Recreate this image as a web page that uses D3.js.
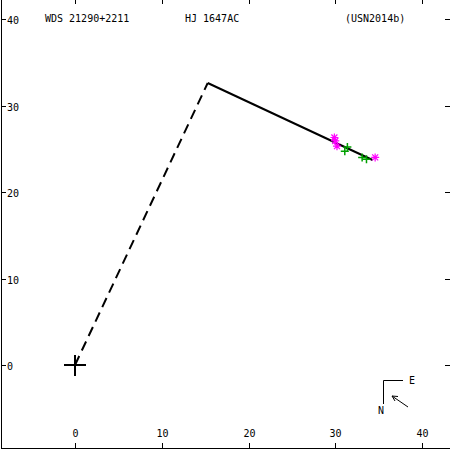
<!DOCTYPE html>
<html>
<head>
<meta charset="utf-8">
<script src="https://cdn.jsdelivr.net/npm/d3@7"></script>
<style>
  body { margin: 0; background: #fff; }
  text { font-family: "DejaVu Sans Mono", monospace; font-size: 10px; fill: #000; }
</style>
</head>
<body>
<div id="chart"></div>
<script>
var width = 450, height = 450;

var xTicks = [0, 10, 20, 30, 40];
var yTicks = [0, 10, 20, 30, 40];
var titles = ["WDS 21290+2211", "HJ 1647AC", "(USN2014b)"];

// orbit path: origin -> periastron-ish node -> last point
var dashedPath = [[0, 0], [15.3, 32.6]];
var orbitPath = [[15.3, 32.6], [34.3, 23.7]];

// measurements
var magentaPts = [[29.9, 26.3], [30.0, 25.9], [30.2, 25.3], [34.6, 24.0]];
var greenPts = [[31.4, 25.2], [31.1, 24.7], [33.1, 24.0], [33.6, 23.8]];

var x = d3.scaleLinear().domain([0, 40]).range([75, 422]);
var y = d3.scaleLinear().domain([0, 40]).range([365, 19]);

var svg = d3.select("#chart")
  .append("svg")
  .attr("width", width)
  .attr("height", height);

// frame
svg.append("line").attr("x1", 1.5).attr("x2", 1.5).attr("y1", 0).attr("y2", 449)
  .attr("stroke", "#000").attr("stroke-width", 1);
svg.append("line").attr("x1", 1).attr("x2", 450).attr("y1", 448.5).attr("y2", 448.5)
  .attr("stroke", "#000").attr("stroke-width", 1);

// bottom + top ticks
xTicks.forEach(function (t) {
  var px = Math.round(x(t)) + 0.5;
  svg.append("line").attr("x1", px).attr("x2", px).attr("y1", 448).attr("y2", 443).attr("stroke", "#000");
  svg.append("line").attr("x1", px).attr("x2", px).attr("y1", 0).attr("y2", 4).attr("stroke", "#000");
  svg.append("text").attr("x", px).attr("y", 437).attr("text-anchor", "middle").text(t);
});

// left + right ticks
yTicks.forEach(function (t) {
  var py = Math.round(y(t)) + 0.5;
  svg.append("line").attr("x1", 1).attr("x2", 6).attr("y1", py).attr("y2", py).attr("stroke", "#000");
  svg.append("line").attr("x1", 445).attr("x2", 450).attr("y1", py).attr("y2", py).attr("stroke", "#000");
  svg.append("text").attr("x", 7).attr("y", py + 4).text(t);
});

// header
svg.append("text").attr("x", 45).attr("y", 22).text(titles[0]);
svg.append("text").attr("x", 185).attr("y", 22).text(titles[1]);
svg.append("text").attr("x", 345).attr("y", 22).text(titles[2]);

var line = d3.line().x(d => x(d[0])).y(d => y(d[1]));

svg.append("path").attr("d", line(dashedPath))
  .attr("fill", "none").attr("stroke", "#000").attr("stroke-width", 2)
  .attr("stroke-dasharray", "10,6");

svg.append("path").attr("d", line(orbitPath))
  .attr("fill", "none").attr("stroke", "#000").attr("stroke-width", 2);

// origin marker
svg.append("path")
  .attr("d", "M" + (x(0) - 11) + "," + y(0) + "H" + (x(0) + 11) +
    "M" + x(0) + "," + (y(0) - 10) + "V" + (y(0) + 11))
  .attr("stroke", "#000").attr("stroke-width", 2);

// green plus markers
svg.selectAll(".g").data(greenPts).enter().append("path")
  .attr("d", d => "M" + (x(d[0]) - 4) + "," + y(d[1]) + "h8M" + x(d[0]) + "," + (y(d[1]) - 4) + "v8")
  .attr("stroke", "#00a000").attr("stroke-width", 1.5);

// magenta asterisk markers
svg.selectAll(".m").data(magentaPts).enter().append("path")
  .attr("d", function (d) {
    var cx = x(d[0]), cy = y(d[1]);
    return "M" + (cx - 4) + "," + cy + "h8M" + cx + "," + (cy - 4) + "v8" +
      "M" + (cx - 3) + "," + (cy - 3) + "l6,6M" + (cx - 3) + "," + (cy + 3) + "l6,-6";
  })
  .attr("stroke", "#ff00ff").attr("stroke-width", 1.2);

// compass
svg.append("path").attr("d", "M383.5,404V380.5H403")
  .attr("fill", "none").attr("stroke", "#000");
svg.append("text").attr("x", 409).attr("y", 384).text("E");
svg.append("text").attr("x", 378).attr("y", 414).text("N");
svg.append("path").attr("d", "M408,407L392,396M392,396l6,0.5M392,396l3,5")
  .attr("fill", "none").attr("stroke", "#000");
</script>
</body>
</html>
